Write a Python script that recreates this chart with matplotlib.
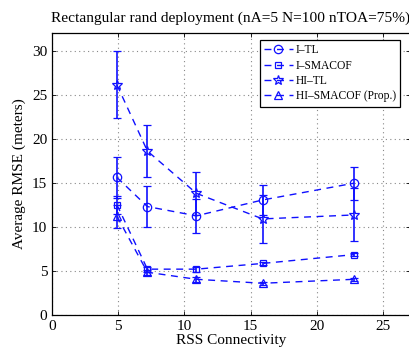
import numpy as np
import matplotlib
matplotlib.use('Agg')
import matplotlib.pyplot as plt

plt.rcParams['font.family'] = 'Liberation Serif'
plt.rcParams['xtick.direction'] = 'in'
plt.rcParams['ytick.direction'] = 'in'

# RSS connectivity (x) and average RMSE (meters) for each method
conn = [4.9, 7.2, 10.9, 15.9, 22.8]

itl = [15.6, 12.3, 11.25, 13.05, 14.95]
itl_err = [2.3, 2.3, 1.9, 1.7, 1.85]

ismacof = [12.5, 5.2, 5.2, 5.85, 6.85]
ismacof_err = [1.0, 0.3, 0.3, 0.2, 0.2]

hitl = [26.1, 18.6, 13.8, 10.9, 11.35]
hitl_err = [3.8, 3.0, 2.45, 2.75, 3.0]

hismacof = [11.2, 4.85, 4.05, 3.6, 4.05]
hismacof_err = [1.3, 0.3, 0.3, 0.2, 0.2]

labels = ['I\u2013TL', 'I\u2013SMACOF', 'HI\u2013TL', 'HI\u2013SMACOF (Prop.)']
markers = ['o', 's', '*', '^']
msizes = [6, 5, 7, 6]

fig = plt.figure(figsize=(4.1, 3.5), dpi=100)
ax = fig.add_axes([0.127, 0.1, 0.872, 0.806])

series = [(itl, itl_err), (ismacof, ismacof_err), (hitl, hitl_err), (hismacof, hismacof_err)]
for (vals, errs), lab, mk, ms in zip(series, labels, markers, msizes):
    ax.errorbar(conn, vals, yerr=errs, color='#1010ff', linestyle=(0, (5, 4)),
                linewidth=1.0, marker=mk, markersize=ms, markerfacecolor='none',
                markeredgecolor='#1010ff', markeredgewidth=0.9,
                elinewidth=1.2, capsize=3, capthick=1.0, label=lab)

ax.set_xlim(0, 27)
ax.set_ylim(0, 32)
ax.set_xticks([0, 5, 10, 15, 20, 25])
ax.set_yticks([0, 5, 10, 15, 20, 25, 30])
ax.tick_params(labelsize=11, top=True, right=True, length=3, width=0.6)
ax.grid(True, linestyle=(0, (1, 3)), color='#888888', linewidth=0.8)

ax.set_xlabel('RSS Connectivity', fontsize=11, labelpad=1)
ax.set_ylabel('Average RMSE (meters)', fontsize=11, labelpad=4)
ax.set_title('Rectangular rand deployment (nA=5 N=100 nTOA=75%)', fontsize=11.1, pad=8)

for sp in ax.spines.values():
    sp.set_linewidth(0.9)

handles, labs = ax.get_legend_handles_labels()
handles = [h[0] for h in handles]
leg = ax.legend(handles, labs, loc='upper right', fontsize=8.3, fancybox=False,
                edgecolor='black', framealpha=1, handlelength=2.5,
                borderpad=0.35, labelspacing=0.3, handletextpad=0.3,
                bbox_to_anchor=(0.99, 0.995))
leg.get_frame().set_linewidth(0.9)

fig.savefig('out.png', dpi=100)
